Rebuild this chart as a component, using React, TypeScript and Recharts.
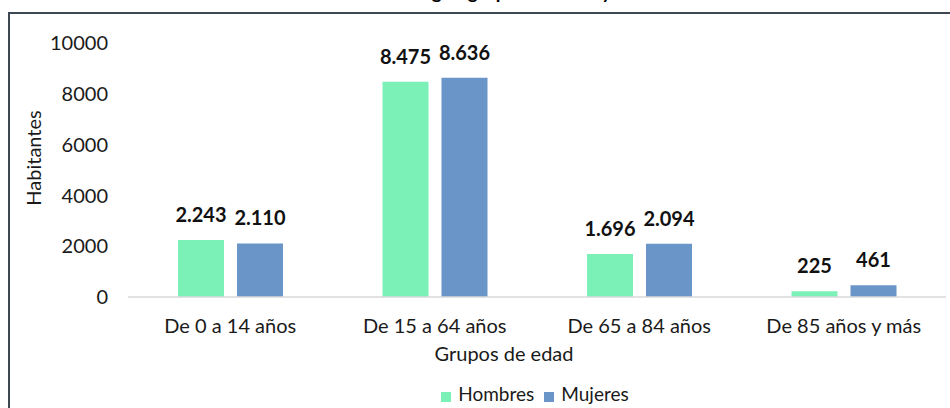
import React from 'react';
import { Bar, BarChart, LabelList, Legend, XAxis, YAxis } from 'recharts';

const categories = ['De 0 a 14 años', 'De 15 a 64 años', 'De 65 a 84 años', 'De 85 años y más'];
const hombres = [2243, 8475, 1696, 225];
const mujeres = [2110, 8636, 2094, 461];
const yTicks = [0, 2000, 4000, 6000, 8000, 10000];

const data = categories.map((grupo, i) => ({ grupo, Hombres: hombres[i], Mujeres: mujeres[i] }));

const FONT = 'Lato, "DejaVu Sans", sans-serif';
const formatMiles = (v: number | string) => String(v).replace(/\B(?=(\d{3})+(?!\d))/g, '.');

export default function App() {
    return <div style={{ position: 'absolute', left: 0, top: 0, width: 950, height: 408, overflow: 'hidden', background: '#fff', fontFamily: FONT }}>
        <div style={{ position: 'absolute', left: 8, top: 12, width: 1000, height: 500, borderTop: '2px solid #3e4852', borderLeft: '2px solid #3e4852' }} />
        <div style={{ position: 'absolute', left: 0, top: -20, width: 980, textAlign: 'center', fontSize: 19, fontWeight: 'bold', color: '#000' }}>
            Población según grupos de edad y sexo
        </div>
        <BarChart width={950} height={408} data={data} barSize={46} barGap={13}
            margin={{ top: 43, right: 4, left: 28, bottom: 41 }}
            style={{ position: 'absolute', left: 0, top: 0 }}>
            <XAxis dataKey="grupo" height={70} interval={0} tickSize={0} tickMargin={22} axisLine={{ stroke: '#d9d9d9', strokeWidth: 1.5 }}
                tick={{ fill: '#1a1a1a', fontSize: 20, fontFamily: FONT }}
                label={{ value: 'Grupos de edad', position: 'insideBottom', offset: 6, dx: -33, fill: '#1a1a1a', fontSize: 20, fontFamily: FONT }} />
            <YAxis width={100} domain={[0, 10000]} ticks={yTicks} axisLine={false} tickLine={false} tickSize={0} tickMargin={20}
                tick={{ fill: '#1a1a1a', fontSize: 20, fontFamily: FONT }}
                label={{ value: 'Habitantes', angle: -90, position: 'insideLeft', offset: 6, dy: -12, fill: '#1a1a1a', fontSize: 20, fontFamily: FONT, style: { textAnchor: 'middle' } }} />
            <Legend verticalAlign="middle" align="center" iconType="square" iconSize={10}
                wrapperStyle={{ left: 440, top: 382, width: 200 }}
                formatter={(value: string) => <span style={{ color: '#1a1a1a', fontSize: 19, fontFamily: FONT, marginLeft: 3 }}>{value}</span>} />
            <Bar dataKey="Hombres" fill="#7bf1b8" isAnimationActive={false}>
                <LabelList dataKey="Hombres" position="top" offset={18} formatter={formatMiles}
                    style={{ fill: '#111', fontSize: 20, fontWeight: 'bold', fontFamily: FONT }} />
            </Bar>
            <Bar dataKey="Mujeres" fill="#6a95c9" isAnimationActive={false}>
                <LabelList dataKey="Mujeres" position="top" offset={18} formatter={formatMiles}
                    style={{ fill: '#111', fontSize: 20, fontWeight: 'bold', fontFamily: FONT }} />
            </Bar>
        </BarChart>
    </div>
}
